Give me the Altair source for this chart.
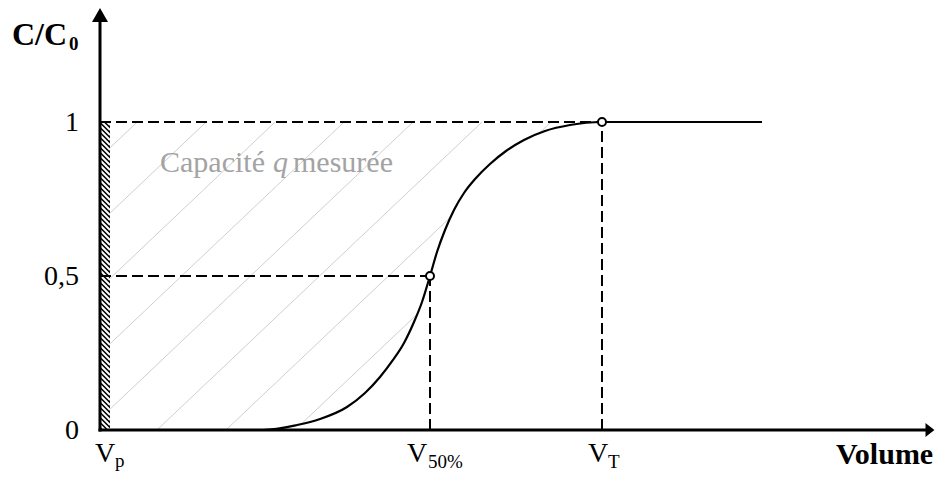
import altair as alt
import pandas as pd
import numpy as np

# ---------------- data ----------------
# breakthrough curve C/C0 versus volume (V50% = 1)
curve_x = [0.0, 0.2424, 0.4939, 0.597, 0.6667, 0.7485, 0.803, 0.8485, 0.8879, 0.9212, 0.9515,
           0.9758, 1.0, 1.0212, 1.0455, 1.0727, 1.103, 1.1394, 1.1818, 1.2303, 1.2848,
           1.3485, 1.4242, 1.5212, 2.006]
curve_y = [0.0, 0.0, 0.0, 0.0162, 0.0357, 0.0747, 0.1201, 0.1721, 0.2273, 0.2825, 0.3506,
           0.4156, 0.5, 0.5779, 0.6494, 0.7143, 0.7695, 0.8182, 0.8636, 0.9058, 0.9416,
           0.9708, 0.9903, 1.0, 1.0]

V_P, V_50, V_T = 0.0, 1.0, 1.5212
y_ticks = [0.0, 0.5, 1.0]
y_tick_labels = ["0", "0,5", "1"]
marker_x = [V_50, V_T]
marker_y = [0.5, 1.0]

# frame (plot area is the whole svg)
W, H = 935, 463
XMIN, XMAX = -92 / 330, -92 / 330 + W / 330
YMIN, YMAX = 1 + 114 / 308 - H / 308, 1 + 114 / 308
X_END = 2.515      # x-axis arrow
Y_END = 1.3474     # y-axis arrow
BAR_W = 0.0303     # dead-volume hatched bar width

# hatch parameters for the "capacity" area
HATCH_START, HATCH_STEP, HATCH_RUN = 0.1727, 0.209, 0.985

FONT = "Liberation Serif"
XS = alt.Scale(domain=[XMIN, XMAX], nice=False, zero=False)
YS = alt.Scale(domain=[YMIN, YMAX], nice=False, zero=False)


def X(f="x"):
    return alt.X(f"{f}:Q", scale=XS, axis=None)


def Y(f="y"):
    return alt.Y(f"{f}:Q", scale=YS, axis=None)


# ---------- gray hatch lines (area above the curve) ----------
rows = []
seg = 0
s = np.linspace(0, 1, 2001)
for k in range(-7, 10):
    x0 = HATCH_START + k * HATCH_STEP
    xs = x0 + HATCH_RUN * s
    ok = (xs >= 0) & (s >= np.interp(xs, curve_x, curve_y) - 1e-9)
    i = 0
    n = len(s)
    while i < n:
        if ok[i]:
            j = i
            while j + 1 < n and ok[j + 1]:
                j += 1
            if j > i:
                rows.append({"x": xs[i], "y": s[i], "seg": seg, "o": 0})
                rows.append({"x": xs[j], "y": s[j], "seg": seg, "o": 1})
                seg += 1
            i = j + 1
        else:
            i += 1
hatch = pd.DataFrame(rows)

hatch_layer = alt.Chart(hatch).mark_line(color="#cfcfcf", strokeWidth=1).encode(
    x=X(), y=Y(), detail="seg:N", order="o:Q")

# ---------- black hatched bar (dead volume) ----------
bar = pd.DataFrame({"x": [0.0], "x2": [BAR_W], "y": [0.0], "y2": [1.0]})
bar_layer = alt.Chart(bar).mark_rect(color="black").encode(
    x=X(), x2="x2", y=Y(), y2="y2")

ratio = 330 / 308
stripe_rows = []
for idx, y0 in enumerate(np.arange(0.0, 1 + BAR_W * ratio + 0.02, 5 / 308)):
    xa = max(0.0, (y0 - 1) / ratio)
    xb = min(BAR_W, y0 / ratio)
    if xb > xa:
        stripe_rows.append({"x": xa, "x2": xb, "y": y0 - xa * ratio, "y2": y0 - xb * ratio})
stripes = pd.DataFrame(stripe_rows)
stripe_layer = alt.Chart(stripes).mark_rule(color="white", strokeWidth=2).encode(
    x=X(), x2="x2", y=Y(), y2="y2")

# ---------- dashed guide lines ----------
guides = pd.DataFrame({
    "x": [V_P, V_P, V_50, V_T],
    "x2": [V_T, V_50, V_50, V_T],
    "y": [1.0, 0.5, 0.0, 0.0],
    "y2": [1.0, 0.5, 0.5, 1.0],
})
guide_layer = alt.Chart(guides).mark_rule(color="black", strokeWidth=2, strokeDash=[11, 5]).encode(
    x=X(), x2="x2", y=Y(), y2="y2")

# ---------- curve ----------
curve = pd.DataFrame({"x": curve_x, "y": curve_y, "o": range(len(curve_x))})
curve_layer = alt.Chart(curve).mark_line(color="black", strokeWidth=2.2, interpolate="monotone").encode(
    x=X(), y=Y(), order="o:Q")

# ---------- axes ----------
axes = pd.DataFrame({"x": [0.0, 0.0], "x2": [0.0, X_END - 0.01], "y": [0.0, 0.0], "y2": [Y_END - 0.01, 0.0]})
axis_layer = alt.Chart(axes).mark_rule(color="black", strokeWidth=3, strokeCap="square").encode(
    x=X(), x2="x2", y=Y(), y2="y2")

arrow_up = alt.Chart(pd.DataFrame({"x": [0.0], "y": [Y_END]})).mark_point(
    shape="triangle-up", size=256, filled=True, color="black", opacity=1).encode(x=X(), y=Y())
arrow_right = alt.Chart(pd.DataFrame({"x": [X_END], "y": [0.0]})).mark_point(
    shape="M-0.64,-1L0.64,0L-0.64,1Z", size=196, filled=True, color="black", opacity=1).encode(x=X(), y=Y())

# ---------- markers ----------
markers = pd.DataFrame({"x": marker_x, "y": marker_y})
marker_layer = alt.Chart(markers).mark_circle(size=64, color="white", stroke="black",
                                              strokeWidth=2, opacity=1).encode(x=X(), y=Y())


# ---------- texts ----------
def txt(x, y, t, size, dx=0, dy=0, bold=False, italic=False, color="black", align="left"):
    df = pd.DataFrame({"x": [x], "y": [y], "t": [t]})
    return alt.Chart(df).mark_text(
        align=align, baseline="alphabetic", dx=dx, dy=dy, font=FONT, fontSize=size,
        fontWeight="bold" if bold else "normal",
        fontStyle="italic" if italic else "normal", color=color,
    ).encode(x=X(), y=Y(), text="t:N")


ytick_layer = alt.Chart(pd.DataFrame({"y": y_ticks, "t": y_tick_labels, "x": [0.0] * 3})).mark_text(
    align="right", baseline="alphabetic", dx=-21, dy=9, font=FONT, fontSize=28, color="black"
).encode(x=X(), y=Y(), text="t:N")

texts = [
    txt(V_P, 0.0, "V", 28, dx=-5, dy=32),
    txt(V_P, 0.0, "p", 19, dx=15, dy=37),
    txt(V_50, 0.0, "V", 28, dx=-23, dy=32),
    txt(V_50, 0.0, "50%", 19, dx=-2, dy=38),
    txt(V_T, 0.0, "V", 28, dx=-14, dy=32),
    txt(V_T, 0.0, "T", 19, dx=6, dy=38),
    txt(X_END, 0.0, "Volume", 30, dx=-94, dy=34, bold=True),
    txt(0.0, Y_END, "C/C", 32, dx=-88, dy=30, bold=True),
    txt(0.0, Y_END, "0", 19, dx=-31, dy=35, bold=True),
    txt(0.0, 1.0, "Capacité", 30, dx=60, dy=50, color="#a3a3a3"),
    txt(0.0, 1.0, "q", 30, dx=173, dy=50, italic=True, color="#a3a3a3"),
    txt(0.0, 1.0, "mesurée", 30, dx=193, dy=50, color="#a3a3a3"),
]

chart = alt.layer(
    hatch_layer, bar_layer, stripe_layer, guide_layer, curve_layer, axis_layer,
    arrow_up, arrow_right, marker_layer, ytick_layer, *texts
).properties(
    width=W, height=H, padding=0, autosize=alt.AutoSizeParams(type="none"),
).configure_view(stroke=None)

chart.save("out.html", embed_options={"renderer": "svg", "actions": False})
